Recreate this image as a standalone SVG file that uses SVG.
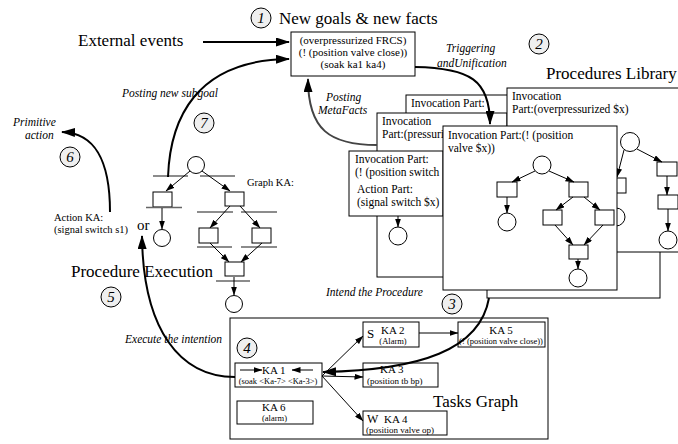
<svg xmlns="http://www.w3.org/2000/svg" width="678" height="444" viewBox="0 0 678 444">
<style>
text{font-family:"Liberation Serif","Times New Roman",serif;fill:#000}
.big{font-size:17px}
.it{font-style:italic;font-size:11.5px}
.card{font-size:11.5px}
.sm{font-size:10.5px}
.ka{font-size:11px}
.tiny{font-size:8.5px}
.num{font-style:italic;font-size:15px;text-anchor:middle}
.box{fill:#fff;stroke:#000;stroke-width:1}
.nc{fill:#efefef;stroke:#000;stroke-width:1}
.bar{stroke:#666;stroke-width:1.5}
.thick{fill:none;stroke:#000;stroke-width:2}
.thin{fill:none;stroke:#000;stroke-width:1}
.pl{fill:#fff;stroke:#000;stroke-width:1}
</style>
<defs>
<marker id="big" viewBox="0 0 14 9" refX="13" refY="4.5" markerWidth="14" markerHeight="9" markerUnits="userSpaceOnUse" orient="auto"><path d="M0,0 L14,4.5 L0,9 z"/></marker>
<marker id="sm" viewBox="0 0 9 6" refX="8.5" refY="3" markerWidth="9" markerHeight="6" markerUnits="userSpaceOnUse" orient="auto"><path d="M0,0 L9,3 L0,6 z"/></marker>
</defs>

<!-- Top: new goals -->
<g id="n1">
<circle class="nc" cx="261" cy="18" r="10"/><text class="num" x="261" y="23">1</text>
<text class="big" x="279" y="24">New goals &amp; new facts</text>
</g>
<g id="facts">
<rect class="box" x="291" y="32" width="124" height="44"/>
<text x="353" y="44" text-anchor="middle" style="font-size:11px">(overpressurized FRCS)</text>
<text x="353" y="56" text-anchor="middle" style="font-size:11px">(! (position valve close))</text>
<text x="353" y="68" text-anchor="middle" style="font-size:11px">(soak ka1 ka4)</text>
</g>
<g id="ext"><text class="big" x="78" y="46">External events</text></g>
<g id="n2"><circle class="nc" cx="539" cy="44" r="10"/><text class="num" x="539" y="49">2</text>
<text class="it" x="446" y="52">Triggering</text><text class="it" x="437" y="67">andUnification</text></g>
<g id="plib"><text class="big" x="546" y="79">Procedures Library</text></g>

<!-- Procedure cards -->
<g id="cardE"><rect class="box" x="487" y="200" width="173" height="98"/></g>
<g id="card1"><rect class="box" x="406" y="95" width="190" height="150"/>
<text class="card" x="411" y="107">Invocation Part:</text></g>
<g id="card3"><rect class="box" x="377" y="113" width="130" height="164"/>
<text class="card" x="382" y="125">Invocation</text><text class="card" x="382" y="138">Part:(pressuri</text>
<circle class="pl" cx="398" cy="236" r="9"/>
<path class="thin" d="M398,205 L398,227" marker-end="url(#sm)"/></g>
<g id="card2"><rect class="box" x="507" y="88" width="185" height="164"/>
<text class="card" x="512" y="100">Invocation</text><text class="card" x="512" y="113">Part:(overpressurized $x)</text>
<circle class="pl" cx="630" cy="142" r="9.5"/>
<rect class="pl" x="606" y="178" width="20" height="15"/>
<circle class="pl" cx="616" cy="217" r="9"/>
<rect class="pl" x="657" y="162" width="20" height="14"/>
<rect class="pl" x="658" y="195" width="20" height="14"/>
<circle class="pl" cx="668" cy="240" r="9"/>
<path class="thin" d="M624,150 L617,177" marker-end="url(#sm)"/>
<path class="thin" d="M637,149 L662,162" marker-end="url(#sm)"/>
<path class="thin" d="M667,176 L667,195" marker-end="url(#sm)"/>
<path class="thin" d="M668,209 L668,231" marker-end="url(#sm)"/>
</g>
<g id="card4"><rect class="box" x="349" y="151" width="94" height="65"/>
<text class="card" x="355" y="163">Invocation Part:</text>
<text class="card" x="355" y="176">(! (position switch</text>
<text class="card" x="357" y="193">Action Part:</text>
<text class="card" x="357" y="206">(signal switch $x)</text></g>
<g id="card5"><rect class="box" x="443" y="126" width="174" height="164"/>
<text class="card" x="448" y="139">Invocation Part:(! (position</text>
<text class="card" x="448" y="152">valve $x))</text>
<circle class="pl" cx="542" cy="165" r="9"/>
<rect class="pl" x="497" y="182" width="20" height="15"/>
<rect class="pl" x="569" y="182" width="19" height="15"/>
<circle class="pl" cx="507" cy="222" r="9"/>
<rect class="pl" x="543" y="210" width="19" height="15"/>
<rect class="pl" x="595" y="210" width="19" height="15"/>
<rect class="pl" x="569" y="245" width="19" height="14"/>
<circle class="pl" cx="578" cy="278" r="9"/>
<path class="thin" d="M535,171 L512,182" marker-end="url(#sm)"/>
<path class="thin" d="M549,171 L574,182" marker-end="url(#sm)"/>
<path class="thin" d="M507,197 L507,213" marker-end="url(#sm)"/>
<path class="thin" d="M573,197 L556,210" marker-end="url(#sm)"/>
<path class="thin" d="M584,197 L600,210" marker-end="url(#sm)"/>
<path class="thin" d="M555,225 L573,245" marker-end="url(#sm)"/>
<path class="thin" d="M603,225 L584,245" marker-end="url(#sm)"/>
<path class="thin" d="M578,259 L578,269" marker-end="url(#sm)"/>
</g>

<!-- Graph KA -->
<g id="graphKA">
<circle class="pl" cx="196" cy="165" r="8.5"/>
<line class="bar" x1="153" y1="176" x2="188" y2="176"/>
<line class="bar" x1="200" y1="176" x2="235" y2="176"/>
<rect class="pl" x="153" y="192" width="19" height="15"/>
<line class="bar" x1="146" y1="207.5" x2="182" y2="207.5"/>
<circle class="pl" cx="162" cy="238" r="8.5"/>
<rect class="pl" x="225" y="192" width="19" height="14"/>
<line class="bar" x1="197" y1="212" x2="233" y2="212"/>
<line class="bar" x1="241" y1="212" x2="277" y2="212"/>
<rect class="pl" x="199" y="228" width="19" height="15"/>
<rect class="pl" x="252" y="228" width="19" height="15"/>
<line class="bar" x1="197" y1="247" x2="232" y2="247"/>
<line class="bar" x1="241" y1="247" x2="277" y2="247"/>
<rect class="pl" x="225" y="262" width="19" height="14"/>
<line class="bar" x1="216" y1="281" x2="250" y2="281"/>
<circle class="pl" cx="234" cy="304" r="8.5"/>
<path class="thin" d="M190,171 L166,191" marker-end="url(#sm)"/>
<path class="thin" d="M202,171 L230,191" marker-end="url(#sm)"/>
<path class="thin" d="M162,208 L162,229" marker-end="url(#sm)"/>
<path class="thin" d="M230,206 L210,228" marker-end="url(#sm)"/>
<path class="thin" d="M240,206 L260,228" marker-end="url(#sm)"/>
<path class="thin" d="M210,243 L229,262" marker-end="url(#sm)"/>
<path class="thin" d="M262,243 L241,262" marker-end="url(#sm)"/>
<path class="thin" d="M234,277 L234,295" marker-end="url(#sm)"/>
<text class="sm" x="247" y="186">Graph KA:</text>
</g>
<g id="actionKA">
<text class="sm" x="54" y="221">Action KA:</text>
<text class="sm" x="54" y="233">(signal switch s1)</text>
<text x="137" y="230" style="font-size:15px">or</text>
</g>
<g id="n5"><text class="big" x="71" y="277">Procedure Execution</text>
<circle class="nc" cx="111" cy="297" r="10"/><text class="num" x="111" y="302">5</text></g>
<g id="n6"><text class="it" x="13" y="126">Primitive</text><text class="it" x="25" y="139">action</text>
<circle class="nc" cx="70" cy="157" r="10"/><text class="num" x="70" y="162">6</text></g>
<g id="n7"><text class="it" x="122" y="97">Posting new subgoal</text>
<circle class="nc" cx="204" cy="123" r="10"/><text class="num" x="204" y="128">7</text></g>
<g id="meta"><text class="it" x="326" y="101">Posting</text><text class="it" x="318" y="114">MetaFacts</text></g>
<g id="n3"><text class="it" x="326" y="296">Intend the Procedure</text>
<circle class="nc" cx="452" cy="304" r="10"/><text class="num" x="452" y="309">3</text></g>
<g id="exec"><text class="it" x="125" y="343">Execute the intention</text></g>

<!-- Tasks graph -->
<g id="tasks">
<rect class="box" x="230" y="318" width="318" height="121"/>
<text class="big" x="433" y="407">Tasks Graph</text>
<circle class="nc" cx="247" cy="348" r="10"/><text class="num" x="247" y="353">4</text>
</g>
<g id="ka1"><rect class="box" x="235" y="363" width="87" height="24"/>
<text class="ka" x="262" y="374">KA 1</text>
<path class="thin" d="M240,370 L262,370" marker-end="url(#sm)"/>
<path class="thin" d="M313,370 L292,370" marker-end="url(#sm)"/>
<text class="tiny" x="278" y="384" text-anchor="middle">(soak &lt;Ka-7&gt; &lt;Ka-3&gt;)</text></g>
<g id="ka2"><rect class="box" x="363" y="322" width="56" height="25"/>
<text x="367" y="338" style="font-size:13px">S</text><text class="ka" x="381" y="334">KA 2</text>
<text class="tiny" x="393" y="344" text-anchor="middle">(Alarm)</text></g>
<g id="ka5"><rect class="box" x="458" y="322" width="87" height="25"/>
<text class="ka" x="501" y="334" text-anchor="middle">KA 5</text>
<text class="tiny" x="501" y="344" text-anchor="middle">(! (position valve close))</text></g>
<g id="ka3"><rect class="box" x="363" y="363" width="75" height="24"/>
<text class="ka" x="380" y="373">KA 3</text>
<text class="tiny" x="367" y="384" style="font-size:9px">(position tb bp)</text></g>
<g id="ka4"><rect class="box" x="363" y="411" width="84" height="24"/>
<text x="367" y="423" style="font-size:12px">W</text><text class="ka" x="384" y="423">KA 4</text>
<text class="tiny" x="366" y="433" style="font-size:9px">(position valve op)</text></g>
<g id="ka6"><rect class="box" x="237" y="401" width="76" height="23"/>
<text class="ka" x="262" y="411">KA 6</text>
<text class="tiny" x="262" y="421">(alarm)</text></g>

<!-- connectors -->
<g id="connectors">
<path class="thick" d="M203,42 L289,42" marker-end="url(#big)"/>
<path class="thick" d="M168,177 C170,120 195,60 289,59" marker-end="url(#big)"/>
<path class="thick" d="M415,67 C470,68 490,80 490,124" marker-end="url(#big)"/>
<path class="thick" style="stroke:#444" d="M377,145 C330,145 308,130 308,79" marker-end="url(#big)"/>
<path class="thick" d="M110,212 C110,160 95,133 62,132" marker-end="url(#big)"/>
<path class="thick" d="M235,377 C180,377 143,330 142,236" marker-end="url(#big)"/>
<path class="thick" d="M489,298 C480,350 420,370 323,372" marker-end="url(#big)"/>
<path class="thin" d="M419,333 L458,333" marker-end="url(#sm)"/>
<path class="thin" d="M322,376 L363,336" marker-end="url(#sm)"/>
<path class="thin" d="M322,376 L363,377" marker-end="url(#sm)"/>
<path class="thin" d="M322,376 L363,421" marker-end="url(#sm)"/>
</g>
</svg>
